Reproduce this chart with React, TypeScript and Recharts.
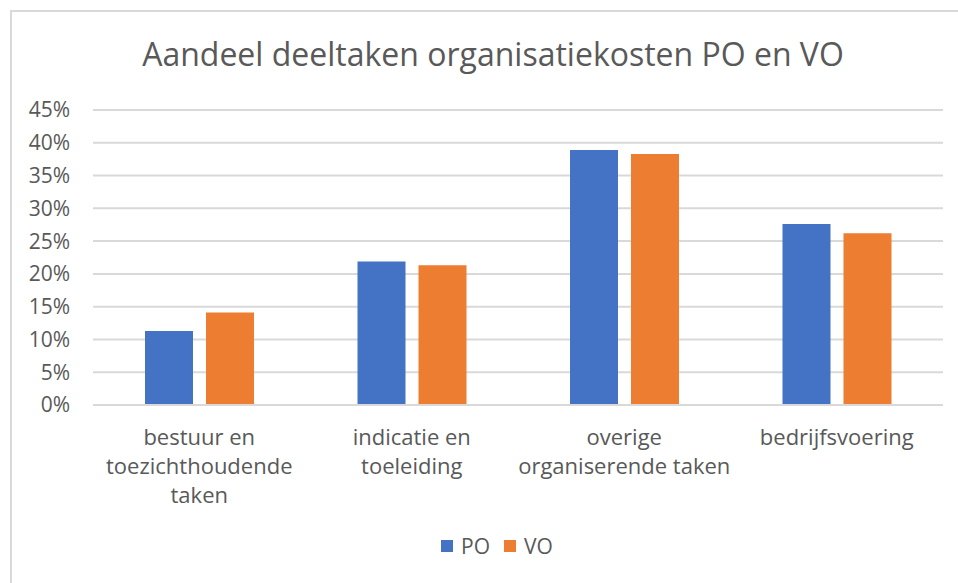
import { BarChart, Bar, XAxis, YAxis, CartesianGrid, Legend } from "recharts";

// categories (line breaks as in the original axis labels)
const categories = [
  "bestuur en\ntoezichthoudende\ntaken",
  "indicatie en\ntoeleiding",
  "overige\norganiserende taken",
  "bedrijfsvoering",
];
const poValues = [11.3, 21.9, 38.9, 27.6];
const voValues = [14.1, 21.3, 38.3, 26.2];
const yTicks = [0, 5, 10, 15, 20, 25, 30, 35, 40, 45];

const data = categories.map((name, i) => ({
  name,
  PO: poValues[i],
  VO: voValues[i],
}));

const FONT = "'Open Sans', 'Noto Sans', sans-serif";
const TEXT = "#595959";

function CategoryTick(props: any) {
  const { x, y, payload } = props;
  const lines = String(payload.value).split("\n");
  return (
    <text
      x={x}
      y={y}
      textAnchor="middle"
      fill={TEXT}
      fontSize={22}
      fontFamily={FONT}
    >
      {lines.map((l, i) => (
        <tspan key={i} x={x} dy={i === 0 ? 32 : 29}>
          {l}
        </tspan>
      ))}
    </text>
  );
}

function LegendContent() {
  const items = [
    { label: "PO", color: "#4472C4" },
    { label: "VO", color: "#ED7D31" },
  ];
  return (
    <div
      style={{
        display: "flex",
        justifyContent: "center",
        gap: 14,
        paddingLeft: 36,
        fontFamily: FONT,
        fontSize: 21,
        color: TEXT,
      }}
    >
      {items.map((it) => (
        <div key={it.label} style={{ display: "flex", alignItems: "center" }}>
          <span
            style={{
              display: "inline-block",
              width: 12,
              height: 12,
              background: it.color,
              marginRight: 8,
            }}
          />
          {it.label}
        </div>
      ))}
    </div>
  );
}

export default function App() {
  return (
    <div
      style={{
        position: "absolute",
        left: 0,
        top: 0,
        width: 958,
        height: 583,
        overflow: "hidden",
        background: "#fff",
      }}
    >
      <div
        style={{
          position: "absolute",
          left: 10,
          top: 10,
          width: 960,
          height: 600,
          border: "2px solid #d9d9d9",
        }}
      />
      <div
        style={{
          position: "absolute",
          left: 0,
          width: 986,
          top: 32,
          textAlign: "center",
          fontFamily: FONT,
          fontSize: 32,
          color: TEXT,
        }}
      >
        Aandeel deeltaken organisatiekosten PO en VO
      </div>
      <div style={{ position: "absolute", left: 0, top: 0 }}>
        <BarChart
          width={958}
          height={583}
          data={data}
          margin={{ top: 110, right: 15, left: 0, bottom: 0 }}
          barSize={48}
          barGap={13}
        >
          <CartesianGrid vertical={false} stroke="#d9d9d9" strokeWidth={2} />
          <XAxis
            dataKey="name"
            height={178}
            tickLine={false}
            axisLine={{ stroke: "#d9d9d9", strokeWidth: 2 }}
            tick={<CategoryTick />}
            interval={0}
          />
          <YAxis
            width={93}
            domain={[0, 45]}
            ticks={yTicks}
            tickFormatter={(v) => `${v}%`}
            axisLine={false}
            tickLine={false}
            tickMargin={17}
            tick={{ fill: TEXT, fontSize: 21, fontFamily: FONT }}
          />
          <Legend
            verticalAlign="middle"
            align="center"
            wrapperStyle={{ top: 532, left: 0, width: 958 }}
            content={<LegendContent />}
          />
          <Bar dataKey="PO" fill="#4472C4" isAnimationActive={false} />
          <Bar dataKey="VO" fill="#ED7D31" isAnimationActive={false} />
        </BarChart>
      </div>
    </div>
  );
}
